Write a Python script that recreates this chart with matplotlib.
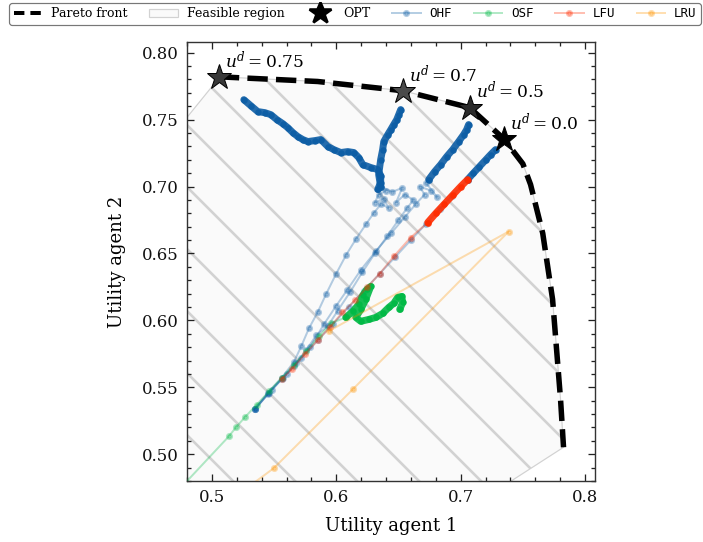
import matplotlib
matplotlib.use("Agg")
import matplotlib.pyplot as plt
from matplotlib.patches import Polygon
from matplotlib.lines import Line2D
import numpy as np

# ---------------- data ----------------
pareto_x = [0.5056, 0.585, 0.6534, 0.7072, 0.7345, 0.750, 0.7562, 0.766, 0.7739, 0.7803, 0.7827]
pareto_y = [0.7820, 0.7785, 0.7716, 0.7590, 0.7358, 0.7170, 0.7015, 0.6650, 0.6157, 0.5410, 0.5052]

# extra vertices closing the feasible region (beyond the Pareto front)
feas_extra_x = [0.607, 0.40, 0.40, 0.500]
feas_extra_y = [0.40, 0.40, 0.66, 0.7746]

opt_x = [0.5056, 0.6534, 0.7072, 0.7345]
opt_y = [0.7820, 0.7716, 0.7590, 0.7358]
opt_labels = ["0.75", "0.7", "0.5", "0.0"]

# OHF runs (sparse early part, dense late part)
ohf_a_x = [0.5345, 0.545, 0.556, 0.566, 0.572, 0.578, 0.585, 0.592, 0.600, 0.608, 0.616, 0.624, 0.630, 0.636, 0.642, 0.638, 0.631, 0.634, 0.640, 0.6333]
ohf_a_y = [0.5336, 0.546, 0.557, 0.569, 0.581, 0.594, 0.606, 0.620, 0.635, 0.649, 0.661, 0.672, 0.680, 0.687, 0.684, 0.691, 0.688, 0.694, 0.697, 0.6978]
ohf_a_dx = [0.6333, 0.6357, 0.6357, 0.6333, 0.6277, 0.6213, 0.6181, 0.6141, 0.6092, 0.6036, 0.5980, 0.5932, 0.5876,
            0.5827, 0.5771, 0.5731, 0.5691, 0.5651, 0.5610, 0.5570, 0.5522, 0.5474, 0.5426, 0.5369, 0.5313, 0.5257]
ohf_a_dy = [0.6978, 0.7030, 0.7082, 0.7127, 0.7142, 0.7164, 0.7216, 0.7254, 0.7261, 0.7254, 0.7276, 0.7299, 0.7351,
            0.7343, 0.7336, 0.7351, 0.7373, 0.7403, 0.7440, 0.7470, 0.7500, 0.7537, 0.7552, 0.7560, 0.7604, 0.7649]

ohf_b_x = [0.5345, 0.545, 0.556, 0.566, 0.576, 0.584, 0.593, 0.601, 0.611, 0.621, 0.631, 0.641, 0.650, 0.657, 0.662, 0.655, 0.648, 0.653, 0.645, 0.6357]
ohf_b_y = [0.5336, 0.545, 0.556, 0.566, 0.578, 0.589, 0.5955, 0.607, 0.621, 0.636, 0.650, 0.663, 0.675, 0.684, 0.690, 0.694, 0.688, 0.699, 0.696, 0.7000]
ohf_b_dx = [0.6357, 0.6341, 0.6357, 0.6373, 0.6382, 0.6414, 0.6438, 0.6462, 0.6486, 0.6502, 0.6518]
ohf_b_dy = [0.7000, 0.7090, 0.7201, 0.7276, 0.7336, 0.7388, 0.7425, 0.7463, 0.7500, 0.7537, 0.7575]

ohf_c_x = [0.5345, 0.546, 0.557, 0.568, 0.579, 0.590, 0.600, 0.609, 0.620, 0.632, 0.644, 0.655, 0.664, 0.671, 0.667, 0.676, 0.681, 0.672, 0.6743]
ohf_c_y = [0.5336, 0.546, 0.557, 0.568, 0.580, 0.597, 0.611, 0.623, 0.638, 0.652, 0.665, 0.677, 0.687, 0.694, 0.700, 0.697, 0.692, 0.703, 0.7052]
ohf_c_dx = [0.6743, 0.6791, 0.6839, 0.6888, 0.6936, 0.6984, 0.7024, 0.7048, 0.7064]
ohf_c_dy = [0.7052, 0.7112, 0.7164, 0.7224, 0.7276, 0.7336, 0.7388, 0.7425, 0.7463]

ohf_d_x = [0.5345, 0.548, 0.560, 0.572, 0.585, 0.597, 0.610, 0.622, 0.635, 0.647, 0.660, 0.672, 0.683, 0.693, 0.7056]
ohf_d_y = [0.5336, 0.548, 0.560, 0.572, 0.585, 0.597, 0.610, 0.622, 0.635, 0.647, 0.660, 0.672, 0.683, 0.693, 0.7052]
ohf_d_dx = [0.7056, 0.7100, 0.7150, 0.7200, 0.7240, 0.7281]
ohf_d_dy = [0.7052, 0.7098, 0.7148, 0.7198, 0.7238, 0.7276]

osf_x = [0.470, 0.5137, 0.5193, 0.5265, 0.536, 0.546, 0.556, 0.566, 0.576, 0.586, 0.596, 0.6076]
osf_y = [0.470, 0.5134, 0.5200, 0.5276, 0.537, 0.547, 0.557, 0.567, 0.577, 0.588, 0.598, 0.6022]
osf_dx = [0.6076, 0.6133, 0.6181, 0.6213, 0.6245, 0.6277, 0.6237, 0.6197, 0.6157, 0.6197, 0.6261, 0.6317, 0.6373,
          0.6422, 0.6462, 0.6494, 0.6526, 0.6534, 0.6510]
osf_dy = [0.6022, 0.6067, 0.6119, 0.6187, 0.6231, 0.6254, 0.6157, 0.6082, 0.6022, 0.5993, 0.6007, 0.6022, 0.6052,
          0.6097, 0.6127, 0.6172, 0.6179, 0.6134, 0.6082]

lfu_x = [0.556, 0.5643, 0.575, 0.585, 0.595, 0.605, 0.615, 0.625, 0.635, 0.6462, 0.6598, 0.6735]
lfu_y = [0.556, 0.5634, 0.575, 0.585, 0.595, 0.606, 0.615, 0.625, 0.635, 0.6478, 0.6619, 0.6731]
lfu_dx = [0.6735, 0.680, 0.687, 0.694, 0.700, 0.7056]
lfu_dy = [0.6731, 0.680, 0.687, 0.694, 0.700, 0.7052]

lru_x = [0.530, 0.5498, 0.6133, 0.7386, 0.594]
lru_y = [0.476, 0.4896, 0.5485, 0.6664, 0.592]

# ---------------- style ----------------
DPI = 186
W, H = 703, 542


def pt(px):
    return px * 72.0 / DPI


plt.rcParams.update({
    "font.family": "serif",
    "font.serif": ["DejaVu Serif"],
    "mathtext.fontset": "dejavuserif",
    "hatch.linewidth": pt(2.6),
})

C_OHF, C_OSF, C_LFU, C_LRU = "#0C5DA5", "#00B945", "#FF2C00", "#FF9500"

fig = plt.figure(figsize=(W / DPI, H / DPI), dpi=DPI)
ax = fig.add_axes([187 / W, 1 - 481 / H, 408 / W, 439 / H])

# feasible region
poly_pts = list(zip(pareto_x, pareto_y)) + list(zip(feas_extra_x, feas_extra_y))
feas = Polygon(poly_pts, closed=True, facecolor="#fafafa", edgecolor="#d2d2d2",
               hatch="\\", lw=pt(1.2), zorder=0, label="Feasible region")
ax.add_patch(feas)

thin = dict(lw=pt(2.0), marker="o", ms=pt(4.5), alpha=0.3)
dense = dict(lw=pt(7), marker="o", ms=pt(6.5), mew=0, alpha=0.9,
             solid_capstyle="round", solid_joinstyle="round")

h_ohf = None
for sx, sy, dx, dy in [(ohf_a_x, ohf_a_y, ohf_a_dx, ohf_a_dy),
                       (ohf_b_x, ohf_b_y, ohf_b_dx, ohf_b_dy),
                       (ohf_c_x, ohf_c_y, ohf_c_dx, ohf_c_dy),
                       (ohf_d_x, ohf_d_y, ohf_d_dx, ohf_d_dy)]:
    l, = ax.plot(sx, sy, color=C_OHF, zorder=3, **thin)
    if h_ohf is None:
        h_ohf = l
    ax.plot(dx, dy, color=C_OHF, zorder=3, **dense)

h_osf, = ax.plot(osf_x, osf_y, color=C_OSF, zorder=3, **thin)
ax.plot(osf_dx, osf_dy, color=C_OSF, zorder=3, **dense)

h_lfu, = ax.plot(lfu_x, lfu_y, color=C_LFU, zorder=3, **thin)
ax.plot(lfu_dx, lfu_dy, color=C_LFU, zorder=3, **dense)

h_lru, = ax.plot(lru_x, lru_y, color=C_LRU, zorder=3, **thin)

# Pareto front
ax.plot(pareto_x, pareto_y, color="k", lw=pt(5.5), ls=(0, (3.7, 1.5)), zorder=4)

# OPT stars
star_fc = ["#383838", "#4a4a4a", "#2a2a2a", "#000000"]
for x, y, lab, fc in zip(opt_x, opt_y, opt_labels, star_fc):
    ax.plot([x], [y], marker="*", ms=pt(26), color=fc, mec="k", mew=pt(1), ls="none", zorder=5)
    ax.annotate(r"$u^d = %s$" % lab, (x, y), xytext=(pt(6), pt(9)), textcoords="offset points",
                ha="left", va="baseline", fontsize=pt(17), zorder=6)

ax.set_xlim(0.48, 0.808)
ax.set_ylim(0.48, 0.808)
ax.set_xticks([0.5, 0.6, 0.7, 0.8])
ax.set_xticklabels(["0.5", "0.6", "0.7", "0.8"])
ax.set_yticks([0.50, 0.55, 0.60, 0.65, 0.70, 0.75, 0.80])
ax.set_yticklabels(["0.50", "0.55", "0.60", "0.65", "0.70", "0.75", "0.80"])
ax.set_xticks(np.arange(0.48, 0.809, 0.02), minor=True)
ax.set_yticks(np.arange(0.48, 0.809, 0.01), minor=True)
ax.tick_params(which="both", direction="in", top=True, right=True, width=pt(1.3), colors="#222222",
               labelsize=pt(16.5), labelcolor="#111111")
ax.tick_params(which="major", length=pt(7), pad=pt(8))
ax.tick_params(which="minor", length=pt(4))
for s in ax.spines.values():
    s.set_linewidth(pt(1.4))
    s.set_color("#333333")

ax.set_xlabel("Utility agent 1", fontsize=pt(18), labelpad=pt(11))
ax.set_ylabel("Utility agent 2", fontsize=pt(18), labelpad=pt(16))

# legend
h_par = Line2D([], [], color="k", lw=pt(4), ls=(0, (2.6, 1.5)))
h_opt = Line2D([], [], color="k", marker="*", ms=pt(23), ls="none")
leg = fig.legend([h_par, feas, h_opt, h_ohf, h_osf, h_lfu, h_lru],
                 ["Pareto front", "Feasible region", "OPT", "OHF", "OSF", "LFU", "LRU"],
                 loc="upper center", bbox_to_anchor=(0.505, 1 - 3 / H), ncol=7,
                 fontsize=pt(12.5), frameon=True, fancybox=True, framealpha=1,
                 edgecolor="#777777", borderaxespad=0, handlelength=2.3,
                 handletextpad=0.7, columnspacing=1.72, borderpad=0.35)
leg.get_frame().set_linewidth(pt(1.2))
for t in leg.get_texts()[3:]:
    t.set_family("DejaVu Sans Mono")

fig.savefig("out.png", dpi=DPI)
